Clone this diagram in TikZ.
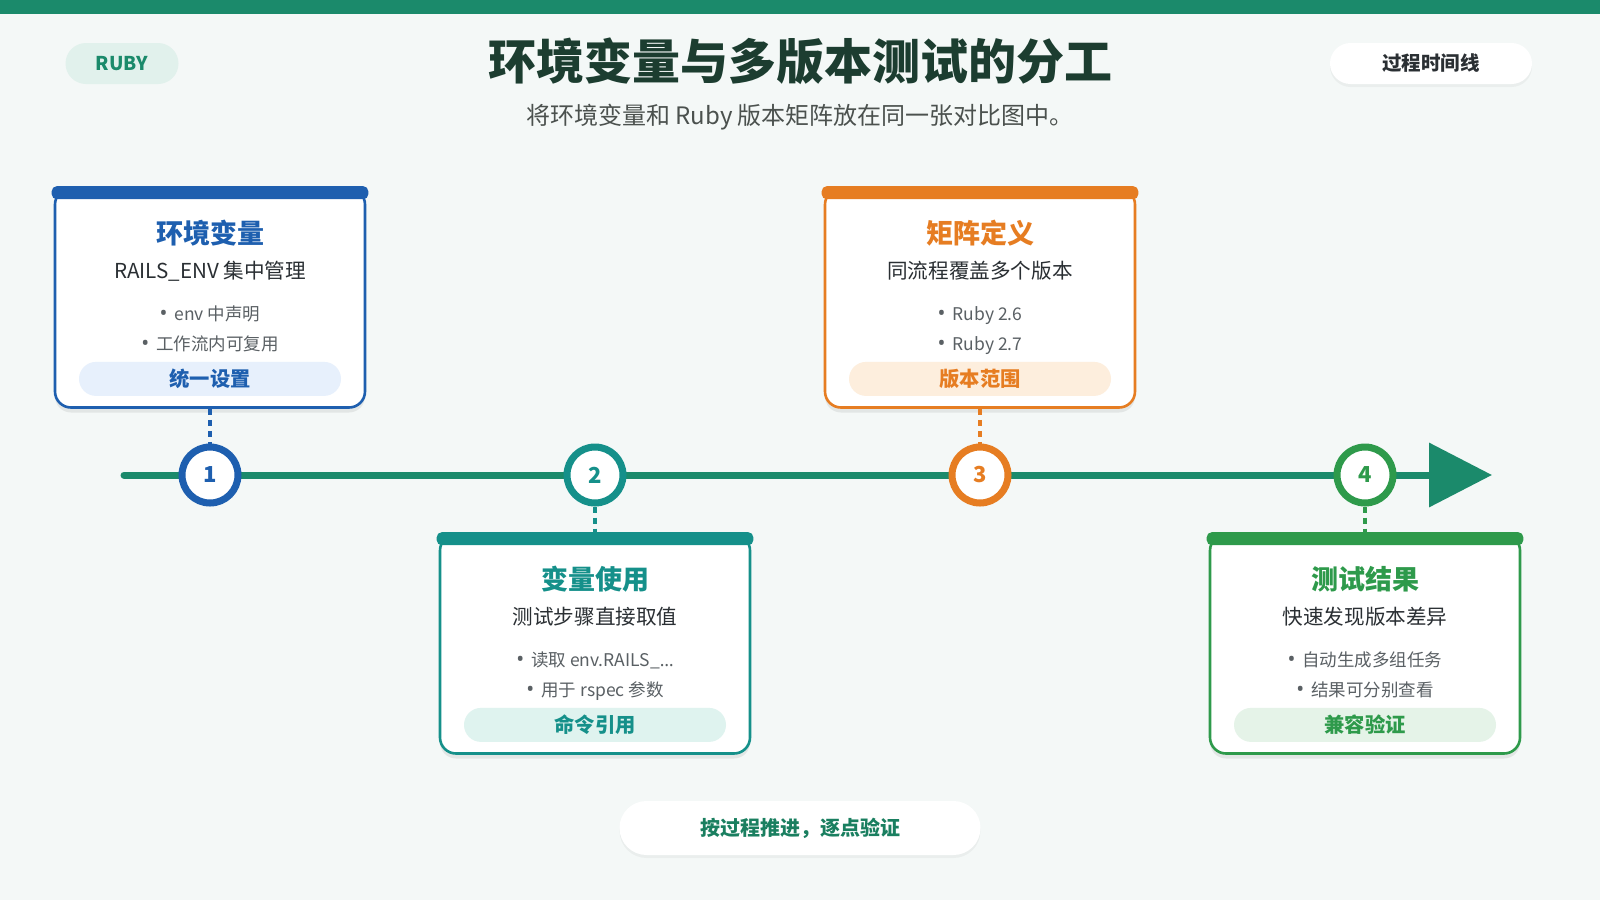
\documentclass[tikz,border=0pt]{standalone}
\usepackage{fontspec}
\setmainfont{Noto Sans CJK SC}
\newfontfamily\latinfont{Noto Sans}
\usetikzlibrary{arrows.meta, positioning, shadows}

\definecolor{bgpage}{HTML}{F4F8F7}
\definecolor{mainline}{HTML}{1B8A6B}
\definecolor{tintmain}{HTML}{E1F1EC}
\definecolor{stepblue}{HTML}{1E5FAF}
\definecolor{stepteal}{HTML}{15908A}
\definecolor{steporange}{HTML}{E67D22}
\definecolor{stepgreen}{HTML}{2E9A4B}
\definecolor{tintblue}{HTML}{E7F0FC}
\definecolor{tintteal}{HTML}{DFF3EF}
\definecolor{tintorange}{HTML}{FDEEDD}
\definecolor{tintgreen}{HTML}{E5F3E8}
\definecolor{titleink}{HTML}{1C3D30}
\definecolor{subink}{HTML}{4B514E}
\definecolor{bodyink}{HTML}{2A2F33}
\definecolor{noteink}{HTML}{5A6064}
\definecolor{footink}{HTML}{1A7F60}

\newcommand{\dotmark}{{\latinfont\fontsize{21}{21}\selectfont •}\hspace{0.4em}}

\begin{document}
\begin{tikzpicture}[
    x=1pt, y=1pt,
    headline/.style={text=titleink, font=\fontsize{48}{54}\selectfont\bfseries, inner sep=0pt},
    subline/.style={text=subink, font=\fontsize{24}{28}\selectfont, inner sep=0pt},
    tagpill/.style={fill=tintmain, text=mainline, rounded corners=20.5pt, minimum width=113pt,
                    minimum height=41pt, inner sep=0pt, font=\fontsize{19}{22}\selectfont\bfseries},
    viewpill/.style={fill=white, text=bodyink, rounded corners=20.5pt, minimum width=202pt,
                     minimum height=41pt, inner sep=0pt, font=\fontsize{19.5}{22}\selectfont\bfseries,
                     drop shadow={shadow xshift=0pt, shadow yshift=-3pt, opacity=.04, fill=black}},
    footpill/.style={fill=white, text=footink, rounded corners=27pt, minimum width=361pt,
                     minimum height=54pt, inner sep=0pt, font=\fontsize{20}{24}\selectfont\bfseries,
                     drop shadow={shadow xshift=0pt, shadow yshift=-3pt, opacity=.04, fill=black}},
    card/.style={draw=#1, fill=white, line width=2.6pt, rounded corners=16pt,
                 minimum width=310pt, minimum height=219pt,
                 drop shadow={shadow xshift=0pt, shadow yshift=-5pt, opacity=.07, fill=black}},
    cardbar/.style={fill=#1, rounded corners=5pt},
    ctitle/.style={text=#1, font=\fontsize{27}{31}\selectfont\bfseries,
                   text height=23.8pt, text depth=3.2pt, inner sep=0pt},
    csub/.style={text=bodyink, font=\fontsize{20.6}{24}\selectfont,
                 text height=18.1pt, text depth=2.5pt, inner sep=0pt},
    cnote/.style={text=noteink, font=\fontsize{17.5}{21}\selectfont,
                  text height=15.4pt, text depth=2.1pt, inner sep=0pt},
    ctag/.style 2 args={fill=#1, text=#2, rounded corners=17pt, minimum width=262pt,
                        minimum height=34pt, inner sep=0pt, text height=17.9pt, text depth=2.4pt,
                        font=\fontsize{20.3}{23}\selectfont\bfseries},
    mark/.style={circle, draw=#1, text=#1, fill=white, line width=7pt, minimum size=56pt,
                 inner sep=0pt, font=\fontsize{22}{26}\selectfont\bfseries},
    link/.style={draw=#1, line width=3.5pt, dash pattern=on 6pt off 5pt},
    tline/.style={draw=mainline, fill=mainline, line width=7pt, line cap=round,
                  -{Triangle[length=63pt, width=63pt]}}
  ]
    \fill[bgpage] (0,0) rectangle (1600,-900);
    \useasboundingbox (0,0) rectangle (1600,-900);
    \fill[mainline] (0,0) rectangle (1600,-14);

    % header
    \node[tagpill] (tag) at (122,-63.5) {RUBY};
    \node[headline] (head) at (800,-61) {环境变量与多版本测试的分工};
    \node[subline] (sub) at (800,-117) {将环境变量和 Ruby 版本矩阵放在同一张对比图中。};
    \node[viewpill] (view) at (1431,-63.5) {过程时间线};

    % timeline
    \coordinate (tstart) at (124,-475);
    \coordinate (tend) at (1492,-475);
    \draw[tline] (tstart) -- (tend);

    \node[mark=stepblue] (m1) at (210,-475) {1};
    \node[mark=stepteal] (m2) at (595,-475) {2};
    \node[mark=steporange] (m3) at (980,-475) {3};
    \node[mark=stepgreen] (m4) at (1365,-475) {4};

    % step 1
    \node[card=stepblue] (c1) at (210,-298) {};
    \fill[cardbar=stepblue] ([xshift=-2pt, yshift=1pt]c1.north west) rectangle ([xshift=2pt, yshift=-12pt]c1.north east);
    \node[ctitle=stepblue, below=31.8pt of c1.north] (t1) {环境变量};
    \node[csub, below=14pt of t1] (s1) {RAILS\_ENV 集中管理};
    \node[cnote, below=23pt of s1] (b1a) {\dotmark env 中声明};
    \node[cnote, below=12.5pt of b1a] (b1b) {\dotmark 工作流内可复用};
    \node[ctag={tintblue}{stepblue}, below=9pt of b1b] (g1) {统一设置};
    \draw[link=stepblue] (c1) -- (m1);

    % step 2
    \node[card=stepteal] (c2) at (595,-644) {};
    \fill[cardbar=stepteal] ([xshift=-2pt, yshift=1pt]c2.north west) rectangle ([xshift=2pt, yshift=-12pt]c2.north east);
    \node[ctitle=stepteal, below=31.8pt of c2.north] (t2) {变量使用};
    \node[csub, below=14pt of t2] (s2) {测试步骤直接取值};
    \node[cnote, below=23pt of s2] (b2a) {\dotmark 读取 env.RAILS\_{\latinfont …}};
    \node[cnote, below=12.5pt of b2a] (b2b) {\dotmark 用于 rspec 参数};
    \node[ctag={tintteal}{stepteal}, below=9pt of b2b] (g2) {命令引用};
    \draw[link=stepteal] (m2) -- (c2);

    % step 3
    \node[card=steporange] (c3) at (980,-298) {};
    \fill[cardbar=steporange] ([xshift=-2pt, yshift=1pt]c3.north west) rectangle ([xshift=2pt, yshift=-12pt]c3.north east);
    \node[ctitle=steporange, below=31.8pt of c3.north] (t3) {矩阵定义};
    \node[csub, below=14pt of t3] (s3) {同流程覆盖多个版本};
    \node[cnote, below=23pt of s3] (b3a) {\dotmark Ruby 2.6};
    \node[cnote, below=12.5pt of b3a] (b3b) {\dotmark Ruby 2.7};
    \node[ctag={tintorange}{steporange}, below=9pt of b3b] (g3) {版本范围};
    \draw[link=steporange] (c3) -- (m3);

    % step 4
    \node[card=stepgreen] (c4) at (1365,-644) {};
    \fill[cardbar=stepgreen] ([xshift=-2pt, yshift=1pt]c4.north west) rectangle ([xshift=2pt, yshift=-12pt]c4.north east);
    \node[ctitle=stepgreen, below=31.8pt of c4.north] (t4) {测试结果};
    \node[csub, below=14pt of t4] (s4) {快速发现版本差异};
    \node[cnote, below=23pt of s4] (b4a) {\dotmark 自动生成多组任务};
    \node[cnote, below=12.5pt of b4a] (b4b) {\dotmark 结果可分别查看};
    \node[ctag={tintgreen}{stepgreen}, below=9pt of b4b] (g4) {兼容验证};
    \draw[link=stepgreen] (m4) -- (c4);

    % footer
    \node[footpill] (foot) at (800,-828) {按过程推进，逐点验证};
  \end{tikzpicture}
\end{document}
